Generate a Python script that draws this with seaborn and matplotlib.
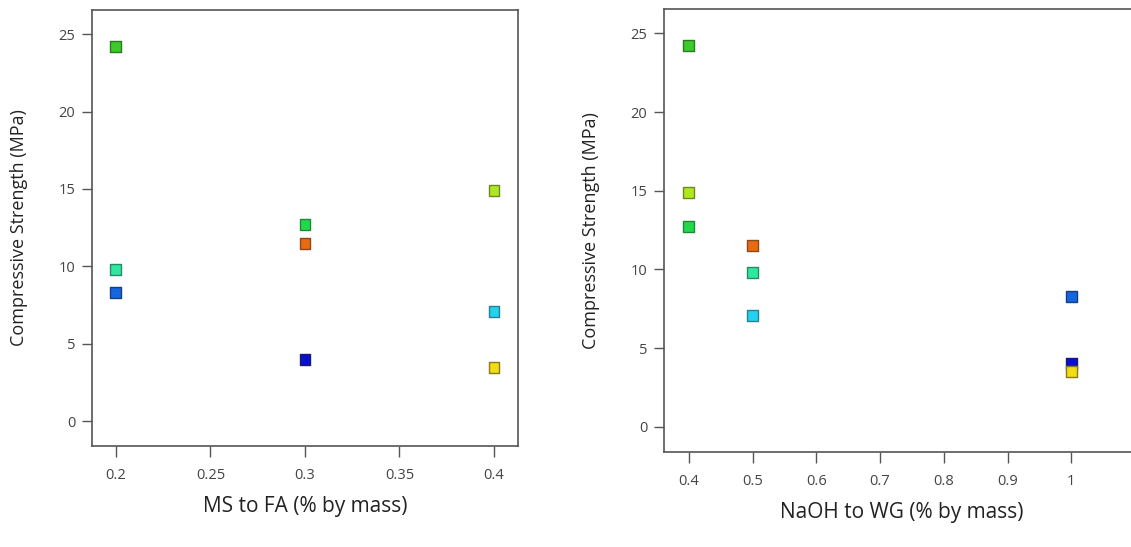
import matplotlib
matplotlib.use("Agg")
import matplotlib.pyplot as plt
import seaborn as sns
import pandas as pd

# nine runs, one colour each
runs = ["R1", "R2", "R3", "R4", "R5", "R6", "R7", "R8", "R9"]
ms_to_fa = [0.2, 0.2, 0.2, 0.3, 0.3, 0.3, 0.4, 0.4, 0.4]
naoh_to_wg = [0.4, 0.5, 1.0, 0.4, 0.5, 1.0, 0.4, 0.5, 1.0]
strength = [24.2, 9.8, 8.3, 12.7, 11.5, 4.0, 14.9, 7.1, 3.5]
run_colors = ["#3ccc2a", "#2ee8a0", "#1565e0", "#22d94a", "#ea6a12",
              "#0a10d0", "#aee81e", "#22d2ee", "#f2dc14"]
edge_colors = ["#2a7a22", "#2a8a66", "#1a3f80", "#1f8a36", "#8a4a1a",
               "#1a1a70", "#6f8a20", "#2a7f90", "#8a7a1a"]

x_ticks_left = [0.2, 0.25, 0.3, 0.35, 0.4]
x_labels_left = ["0.2", "0.25", "0.3", "0.35", "0.4"]
x_ticks_right = [0.4, 0.5, 0.6, 0.7, 0.8, 0.9, 1.0]
x_labels_right = ["0.4", "0.5", "0.6", "0.7", "0.8", "0.9", "1"]
y_ticks = [0, 5, 10, 15, 20, 25]

df = pd.DataFrame({"run": runs, "ms_fa": ms_to_fa, "naoh_wg": naoh_to_wg,
                   "strength": strength})

sns.set_style("ticks")
plt.rcParams["font.family"] = ["Open Sans", "DejaVu Sans"]

fig = plt.figure(figsize=(11.31, 5.47), dpi=100)
ax1 = fig.add_axes([0.0813, 0.1846, 0.3767, 0.797])
ax2 = fig.add_axes([0.587, 0.1737, 0.421, 0.81])

panels = [
    (ax1, "ms_fa", "MS to FA (% by mass)", x_ticks_left, x_labels_left, (0.1873, 0.4127)),
    (ax2, "naoh_wg", "NaOH to WG (% by mass)", x_ticks_right, x_labels_right, (0.3607, 1.108)),
]

for ax, col, xlabel, xt, xl, xlim in panels:
    sns.scatterplot(data=df, x=col, y="strength", hue="run", palette=run_colors,
                    marker="s", s=62, linewidth=1.0, edgecolor=edge_colors,
                    legend=False, ax=ax, zorder=3)
    ax.set_xlim(*xlim)
    ax.set_ylim(-1.6, 26.55)
    ax.set_xticks(xt)
    ax.set_xticklabels(xl)
    ax.set_yticks(y_ticks)
    ax.set_xlabel(xlabel, fontsize=15, color="#222222", labelpad=9)
    ax.set_ylabel("Compressive Strength (MPa)", fontsize=13, color="#222222", labelpad=22)
    ax.tick_params(axis="both", colors="#555555", labelcolor="#444444",
                   labelsize=10.5, width=1.0)
    ax.tick_params(axis="y", length=7, pad=5)
    ax.tick_params(axis="x", length=8, pad=8)
    for sp in ax.spines.values():
        sp.set_visible(True)
        sp.set_color("#555555")
        sp.set_linewidth(1.2)

fig.savefig("out.png", dpi=100)
